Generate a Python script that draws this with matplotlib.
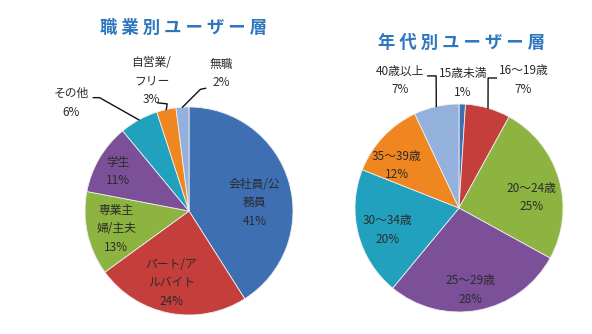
import matplotlib.pyplot as plt
import numpy as np

plt.rcParams['font.family'] = ['Noto Sans CJK JP', 'DejaVu Sans']

# 職業別
job_labels = ["会社員/公\n務員", "パート/ア\nルバイト", "専業主\n婦/主夫", "学生", "その他", "自営業/\nフリー", "無職"]
job_values = [41, 24, 13, 11, 6, 3, 2]

# 年代別
age_labels = ["15歳未満", "16〜19歳", "20〜24歳", "25〜29歳", "30〜34歳", "35〜39歳", "40歳以上"]
age_values = [1, 7, 25, 28, 20, 12, 7]

colors = ["#3E6FB3", "#C43E3C", "#8DB340", "#7B5099", "#22A1BE", "#F0861F", "#93B1DC"]
txt_color = "#2b2b2b"
title_color = "#2E76BE"

# label positions (pie data coords, radius = 1)
job_pos = [(0.63, 0.08), (-0.17, -0.69), (-0.70, -0.17), (-0.68, 0.38),
           (-1.13, 1.04), (-0.36, 1.25), (0.31, 1.32)]
age_pos = [(0.04, 1.20), (0.62, 1.23), (0.70, 0.10), (0.11, -0.79),
           (-0.69, -0.21), (-0.60, 0.41), (-0.57, 1.23)]

# leader lines: index -> (elbow, text end) in data coords
job_leaders = {4: [(-0.86, 1.09), (-0.92, 1.09)],
               5: [(-0.21, 1.03), (-0.30, 1.04)],
               6: [(0.11, 1.17), (0.16, 1.18)]}
age_leaders = {1: [(0.28, 1.25), (0.36, 1.25)],
               6: [(-0.22, 1.27), (-0.30, 1.27)]}

fig = plt.figure(figsize=(5.92, 3.34), dpi=100)


def draw(ax, values, labels, pos, leaders):
    wedges, _ = ax.pie(values, colors=colors, startangle=90, counterclock=False,
                       wedgeprops=dict(edgecolor="#eeeeee", linewidth=0.6))
    ax.set_xlim(-1, 1)
    ax.set_ylim(-1, 1)
    ax.set_aspect("equal")
    ax.axis("off")
    for i, (w, lab, v) in enumerate(zip(wedges, labels, values)):
        ax.text(pos[i][0], pos[i][1], f"{lab}\n{v}%", ha="center", va="center",
                fontsize=8.5, color=txt_color, linespacing=1.55, clip_on=False)
        if i in leaders:
            th = np.deg2rad((w.theta1 + w.theta2) / 2)
            pts = [(np.cos(th), np.sin(th))] + leaders[i]
            xs, ys = zip(*pts)
            ax.plot(xs, ys, color="#111111", lw=1.0, clip_on=False)


ax1 = fig.add_axes([85 / 592, 19 / 334, 208 / 592, 208 / 334])
draw(ax1, job_values, job_labels, job_pos, job_leaders)
ax2 = fig.add_axes([355 / 592, 22 / 334, 208 / 592, 208 / 334])
draw(ax2, age_values, age_labels, age_pos, age_leaders)

fig.text(183 / 592, 1 - 28 / 334, " ".join("職業別ユーザー層"), ha="center", va="center",
         fontsize=12.5, fontweight="bold", color=title_color)
fig.text(461 / 592, 1 - 43 / 334, " ".join("年代別ユーザー層"), ha="center", va="center",
         fontsize=12.5, fontweight="bold", color=title_color)

fig.savefig("out.png", dpi=100)
